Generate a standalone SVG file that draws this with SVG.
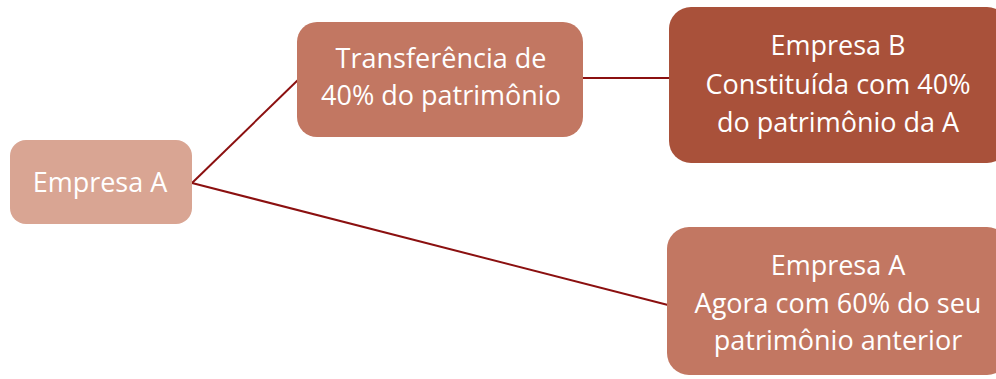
<svg xmlns="http://www.w3.org/2000/svg" width="996" height="379" viewBox="0 0 996 379">
<style>
.t{font-family:"Open Sans","Liberation Sans",sans-serif;font-size:27px;fill:#ffffff;text-anchor:middle}
.c{stroke:#8b1010;stroke-width:2;fill:none}
</style>
<rect width="996" height="379" fill="#ffffff"/>
<g id="connectors">
<line class="c" x1="192" y1="183" x2="300" y2="78"/>
<line class="c" x1="583" y1="78" x2="669" y2="78"/>
<line class="c" x1="192" y1="183" x2="668" y2="305"/>
</g>
<g id="empresaA">
<rect x="10" y="140" width="182" height="84" rx="16" fill="#d9a593"/>
<text class="t" x="100" y="192">Empresa A</text>
</g>
<g id="transferencia">
<rect x="297" y="22" width="286" height="115" rx="20" fill="#c27762"/>
<text class="t" x="441" y="68">Transferência de</text>
<text class="t" x="441" y="105">40% do patrimônio</text>
</g>
<g id="empresaB">
<rect x="669" y="7" width="340" height="156" rx="22" fill="#a9513a"/>
<text class="t" x="838" y="55">Empresa B</text>
<text class="t" x="838" y="94">Constituída com 40%</text>
<text class="t" x="838" y="132">do patrimônio da A</text>
</g>
<g id="empresaA2">
<rect x="667" y="227" width="342" height="148" rx="22" fill="#c27762"/>
<text class="t" x="838" y="275">Empresa A</text>
<text class="t" x="838" y="313">Agora com 60% do seu</text>
<text class="t" x="838" y="350">patrimônio anterior</text>
</g>
</svg>
